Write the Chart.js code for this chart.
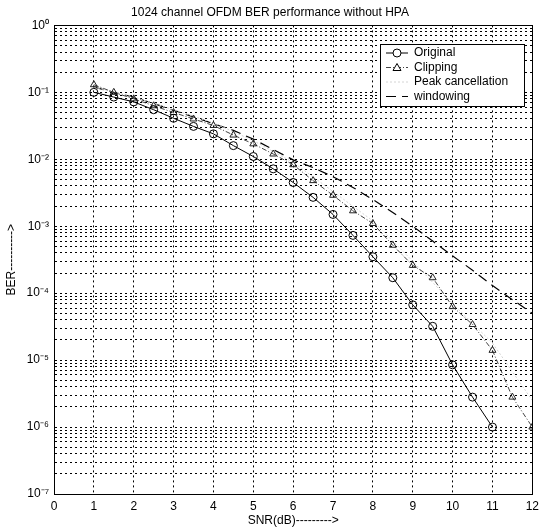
<!DOCTYPE html>
<html>
<head>
<meta charset="utf-8">
<script src="https://cdn.jsdelivr.net/npm/chart.js@4"></script>
<style>
  html, body { margin: 0; padding: 0; background: #fff; }
  #wrap { width: 544px; height: 532px; }
</style>
</head>
<body>
<div id="wrap"><canvas id="ber"></canvas></div>
<script>
// values
const snrOrig = [1, 1.5, 2, 2.5, 3, 3.5, 4, 4.5, 5, 5.5, 6, 6.5, 7, 7.5, 8, 8.5, 9, 9.5, 10, 10.5, 11];
const berOrig = [0.10, 0.085, 0.072, 0.055, 0.041, 0.031, 0.024, 0.016, 0.011, 0.0072, 0.0045, 0.0027, 0.0015,
                 7.3e-4, 3.5e-4, 1.7e-4, 6.7e-5, 3.2e-5, 8.5e-6, 2.8e-6, 1.0e-6];

const snrClip = [1, 1.5, 2, 2.5, 3, 3.5, 4, 4.5, 5, 5.5, 6, 6.5, 7, 7.5, 8, 8.5, 9, 9.5, 10, 10.5, 11, 11.5, 12];
const berClip = [0.13, 0.10, 0.08, 0.063, 0.05, 0.04, 0.032, 0.023, 0.017, 0.012, 0.0083, 0.0048, 0.0029,
                 0.0017, 0.0011, 5.2e-4, 2.6e-4, 1.7e-4, 6.3e-5, 3.4e-5, 1.4e-5, 2.8e-6, 1.0e-6];

const snrPeak = [1, 2, 3, 4, 5, 6, 7, 8, 9, 10, 11, 12];
const berPeak = [0.12, 0.085, 0.055, 0.035, 0.019, 0.009, 0.0033, 0.0012, 3.0e-4, 7.0e-5, 1.8e-5, 2.5e-6];

const snrWin = [1, 1.5, 2, 2.5, 3, 3.5, 4, 4.5, 5, 5.5, 6, 6.5, 7, 7.5, 8, 8.5, 9, 9.5, 10, 10.5, 11, 11.5, 12];
const berWin = [0.12, 0.10, 0.085, 0.068, 0.054, 0.043, 0.034, 0.027, 0.020, 0.014, 0.0098, 0.0075, 0.0055,
                0.0038, 0.0025, 0.0016, 0.001, 6.0e-4, 3.6e-4, 2.2e-4, 1.3e-4, 8.0e-5, 5.0e-5];

const seriesNames = ["Original", "Clipping", "Peak cancellation", "windowing"];
const xTicks = [0, 1, 2, 3, 4, 5, 6, 7, 8, 9, 10, 11, 12];
const decades = [-7, -6, -5, -4, -3, -2, -1, 0];

const FONT = "'Liberation Sans', Arial, sans-serif";

function pts(xs, ys) {
    return xs.map(function (x, i) { return { x: x, y: ys[i] }; });
}

function sup(n) {
    const m = { "-": "\u207B", "0": "\u2070", "1": "\u00B9", "2": "\u00B2", "3": "\u00B3", "4": "\u2074",
                "5": "\u2075", "6": "\u2076", "7": "\u2077", "8": "\u2078", "9": "\u2079" };
    return String(n).split("").map(function (c) { return m[c]; }).join("");
}

// full box around the axes, like matlab
const boxPlugin = {
    id: "box",
    afterDatasetsDraw(chart) {
        const a = chart.chartArea;
        const c = chart.ctx;
        c.save();
        c.strokeStyle = "#000";
        c.lineWidth = 1;
        c.setLineDash([]);
        c.strokeRect(Math.round(a.left) + 0.5, Math.round(a.top) + 0.5,
                     Math.round(a.right - a.left), Math.round(a.bottom - a.top));
        c.restore();
    }
};

// legend inside the plot, top right
const legendBox = {
    id: "legendBox",
    afterDraw(chart) {
        const c = chart.ctx;
        const x0 = 380, y0 = 44, w = 144, h = 62, row = 14.5;
        c.save();
        c.fillStyle = "#fff";
        c.fillRect(x0, y0, w, h);
        c.strokeStyle = "#000";
        c.lineWidth = 1;
        c.strokeRect(x0 + 0.5, y0 + 0.5, w, h);
        c.font = "12px " + FONT;
        c.textBaseline = "middle";
        chart.data.datasets.forEach(function (ds, i) {
            const y = y0 + 9 + i * row;
            c.strokeStyle = ds.borderColor;
            c.lineWidth = ds.borderWidth;
            c.setLineDash(ds.borderDash || []);
            c.beginPath();
            c.moveTo(x0 + 6, y);
            c.lineTo(x0 + 28, y);
            c.stroke();
            c.setLineDash([]);
            if (ds.pointRadius > 0) {
                c.lineWidth = 1;
                c.strokeStyle = "#000";
                c.beginPath();
                if (ds.pointStyle === "triangle") {
                    c.moveTo(x0 + 17, y - 4);
                    c.lineTo(x0 + 21, y + 3);
                    c.lineTo(x0 + 13, y + 3);
                    c.closePath();
                } else {
                    c.arc(x0 + 17, y, 4, 0, Math.PI * 2);
                }
                c.fillStyle = "#fff";
                c.fill();
                c.stroke();
            }
            c.fillStyle = "#000";
            c.fillText(ds.label, x0 + 34, y);
        });
        c.restore();
    }
};

const ctx = document.getElementById("ber");

const berChart = new Chart(ctx, {
    type: "line",
    data: {
        datasets: [
            {
                label: seriesNames[0],
                data: pts(snrOrig, berOrig),
                borderColor: "#000",
                borderWidth: 1,
                pointStyle: "circle",
                pointRadius: 4,
                pointBorderWidth: 1,
                pointBackgroundColor: "rgba(255,255,255,0)",
                pointBorderColor: "#000",
            },
            {
                label: seriesNames[1],
                data: pts(snrClip, berClip),
                borderColor: "#444",
                borderWidth: 1,
                borderDash: [5, 2, 1, 2],
                pointStyle: "triangle",
                pointRadius: 4,
                pointBorderWidth: 1,
                pointBackgroundColor: "rgba(255,255,255,0)",
                pointBorderColor: "#222",
            },
            {
                label: seriesNames[2],
                data: pts(snrPeak, berPeak),
                borderColor: "#d4d4d4",
                borderWidth: 1,
                borderDash: [2, 2],
                pointRadius: 0,
            },
            {
                label: seriesNames[3],
                data: pts(snrWin, berWin),
                borderColor: "#000",
                borderWidth: 1.2,
                borderDash: [10, 6],
                pointRadius: 0,
            },
        ],
    },
    options: {
        animation: false,
        responsive: true,
        maintainAspectRatio: false,
        layout: { padding: { top: 0, right: 4, left: 0, bottom: 0 } },
        elements: { line: { tension: 0 } },
        plugins: {
            legend: { display: false },
            tooltip: { enabled: false },
            title: {
                display: true,
                text: "1024 channel OFDM BER performance without HPA",
                color: "#000",
                font: { family: FONT, size: 12, weight: "normal" },
                padding: { top: 5, bottom: 6 },
            },
        },
        scales: {
            x: {
                type: "linear",
                min: 0,
                max: 12,
                afterBuildTicks: function (scale) {
                    scale.ticks = xTicks.map(function (v) { return { value: v }; });
                },
                ticks: {
                    color: "#000",
                    font: { family: FONT, size: 12 },
                    padding: 5,
                    autoSkip: false,
                    maxRotation: 0,
                },
                grid: { color: "#000", lineWidth: 1, drawTicks: false },
                border: { display: true, color: "#000", width: 1, dash: [2, 3] },
                title: {
                    display: true,
                    text: "SNR(dB)--------->",
                    color: "#000",
                    font: { family: FONT, size: 12 },
                    padding: { top: 0, bottom: 4 },
                },
                afterFit: function (scale) { scale.height = 38; },
            },
            y: {
                type: "logarithmic",
                min: 1e-7,
                max: 1,
                afterBuildTicks: function (scale) {
                    const t = [];
                    decades.forEach(function (e) {
                        for (let k = 1; k <= 9; k++) {
                            if (e === 0 && k > 1) break;
                            t.push({ value: k * Math.pow(10, e), major: k === 1 });
                        }
                    });
                    scale.ticks = t;
                },
                ticks: {
                    color: "#000",
                    font: { family: FONT, size: 12 },
                    autoSkip: false,
                    padding: 5,
                    callback: function (v) {
                        const e = Math.log10(v);
                        if (Math.abs(e - Math.round(e)) < 1e-9) return "10" + sup(Math.round(e));
                        return "";
                    },
                },
                grid: { color: "#000", lineWidth: 1, drawTicks: false },
                border: { display: true, color: "#000", width: 1, dash: [2, 3] },
                title: {
                    display: true,
                    text: "BER---------->",
                    color: "#000",
                    font: { family: FONT, size: 12 },
                    padding: { top: 4, bottom: 0 },
                },
                afterFit: function (scale) { scale.width = 54; },
            },
        },
    },
    plugins: [boxPlugin, legendBox],
});
</script>
</body>
</html>
